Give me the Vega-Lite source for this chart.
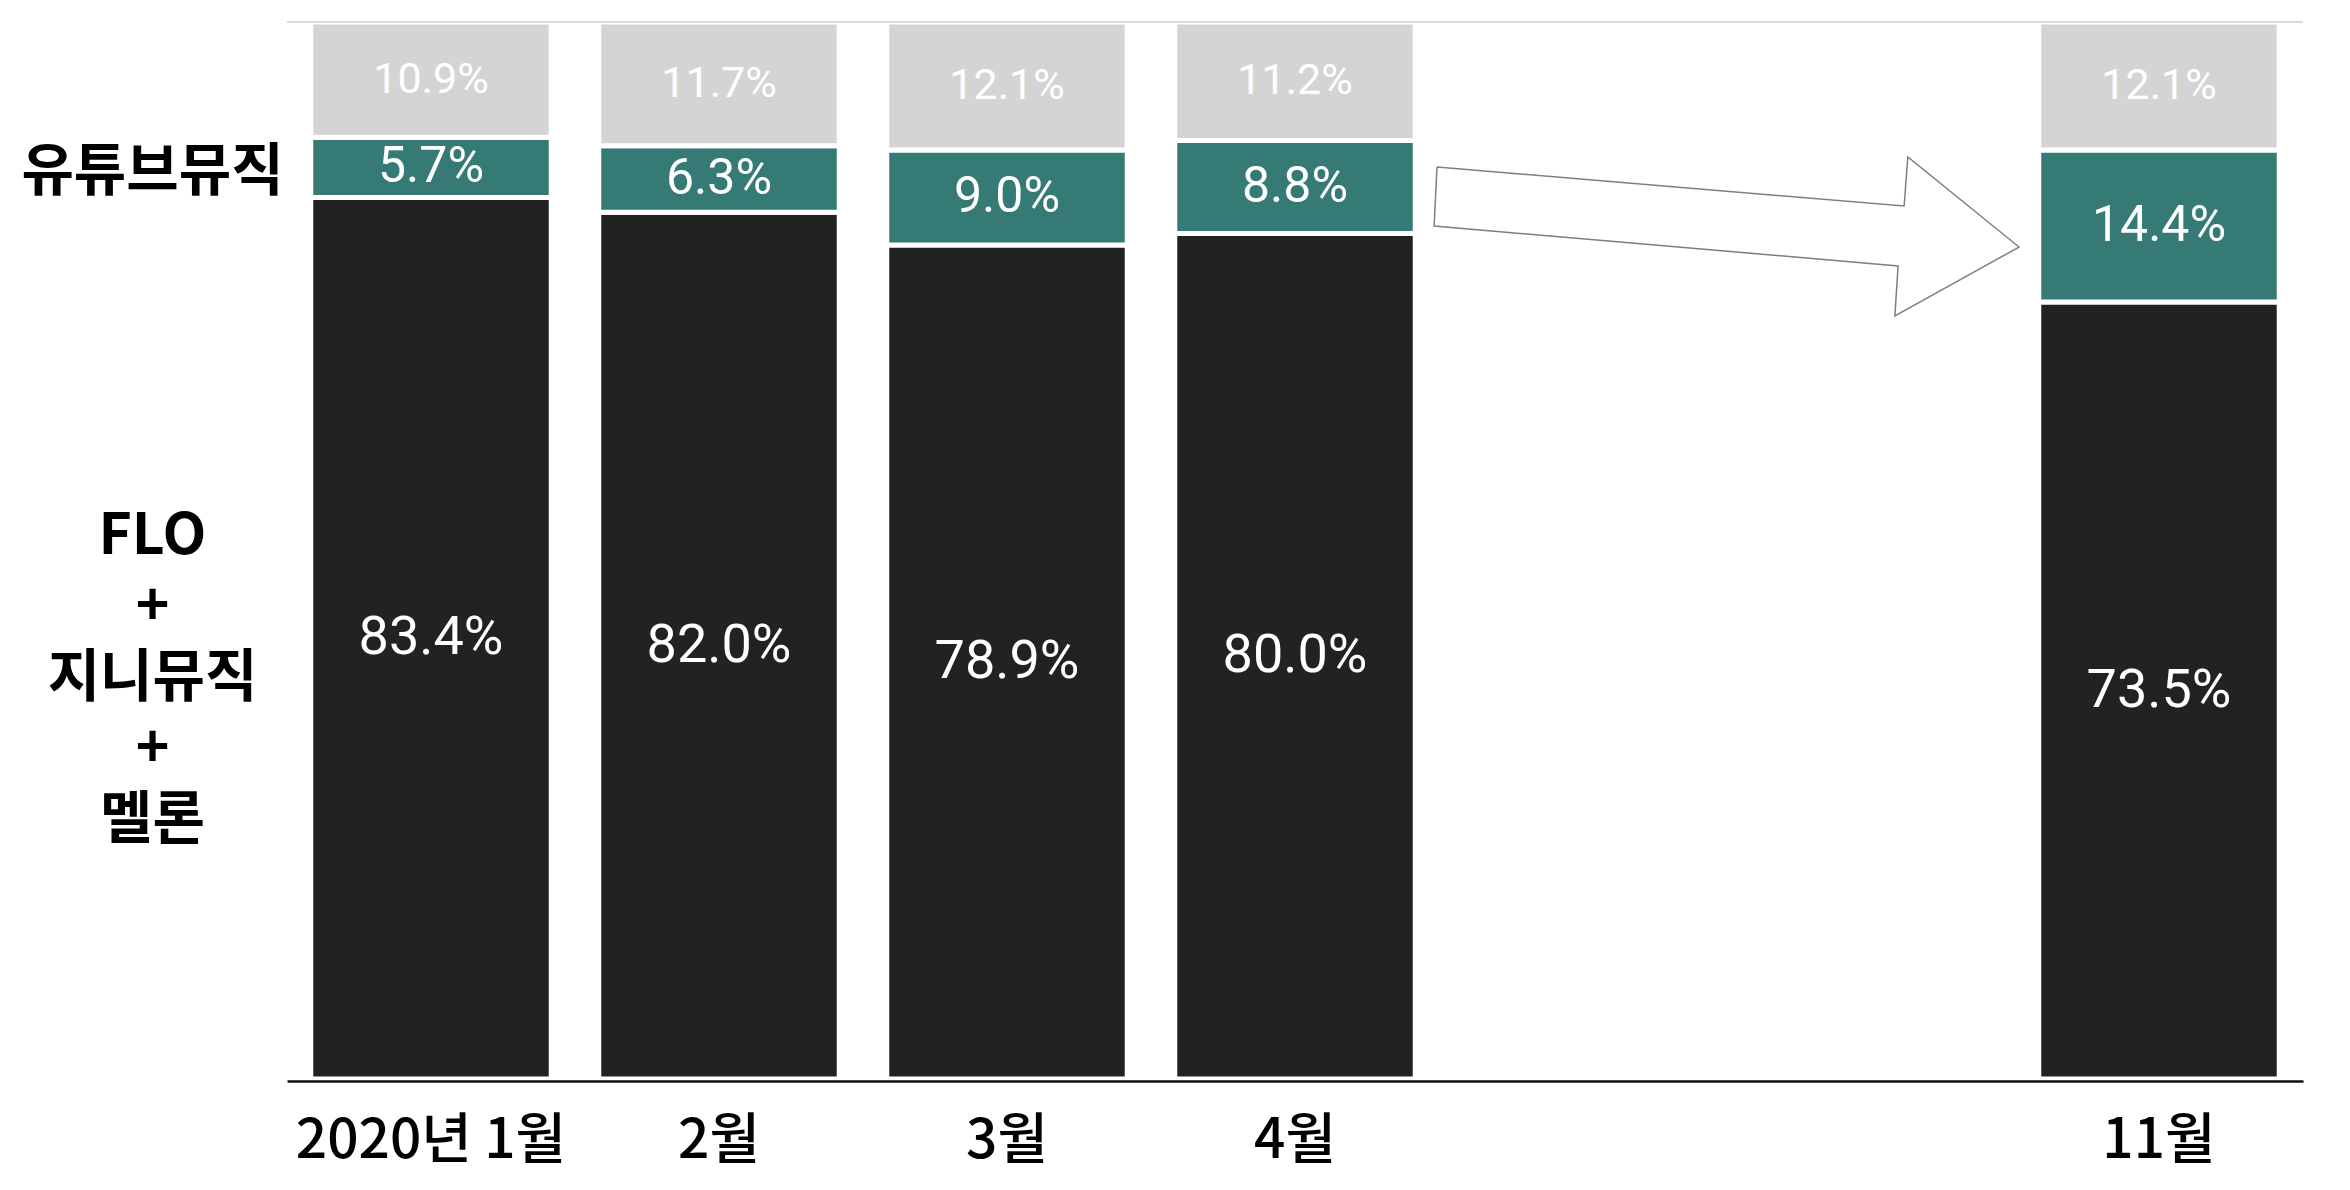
{
  "$schema": "https://vega.github.io/schema/vega-lite/v6.json",
  "width": 2016,
  "height": 1057,
  "autosize": {"type": "none"},
  "padding": {"left": 287, "top": 22, "right": 47, "bottom": 111},
  "background": "white",
  "config": {"view": {"stroke": null}},
  "datasets": {
    "shares": [
      {"month": "2020년 1월", "service": "FLO+지니뮤직+멜론", "share": 0.834},
      {"month": "2020년 1월", "service": "유튜브뮤직", "share": 0.057},
      {"month": "2020년 1월", "service": "기타", "share": 0.109},
      {"month": "2월", "service": "FLO+지니뮤직+멜론", "share": 0.820},
      {"month": "2월", "service": "유튜브뮤직", "share": 0.063},
      {"month": "2월", "service": "기타", "share": 0.117},
      {"month": "3월", "service": "FLO+지니뮤직+멜론", "share": 0.789},
      {"month": "3월", "service": "유튜브뮤직", "share": 0.090},
      {"month": "3월", "service": "기타", "share": 0.121},
      {"month": "4월", "service": "FLO+지니뮤직+멜론", "share": 0.800},
      {"month": "4월", "service": "유튜브뮤직", "share": 0.088},
      {"month": "4월", "service": "기타", "share": 0.112},
      {"month": "11월", "service": "FLO+지니뮤직+멜론", "share": 0.735},
      {"month": "11월", "service": "유튜브뮤직", "share": 0.144},
      {"month": "11월", "service": "기타", "share": 0.121}
    ],
    "arrow": [
      {"k": 1, "ax": 3.993, "ay": 0.8628},
      {"k": 2, "ax": 5.615, "ay": 0.8259},
      {"k": 3, "ax": 5.628, "ay": 0.8723},
      {"k": 4, "ax": 6.014, "ay": 0.7871},
      {"k": 5, "ax": 5.583, "ay": 0.7219},
      {"k": 6, "ax": 5.594, "ay": 0.7692},
      {"k": 7, "ax": 3.983, "ay": 0.8070},
      {"k": 8, "ax": 3.993, "ay": 0.8628}
    ]
  },
  "data": {"name": "shares"},
  "transform": [
    {"stack": "share", "groupby": ["month"], "as": ["y0", "y1"]},
    {"calculate": "(datum.y0 + datum.y1) / 2", "as": "mid"}
  ],
  "resolve": {"scale": {"x": "independent"}},
  "layer": [
    {
      "mark": {"type": "bar", "stroke": "white", "strokeWidth": 5},
      "encoding": {
        "x": {
          "field": "month",
          "type": "nominal",
          "scale": {
            "domain": ["2020년 1월", "2월", "3월", "4월", " ", "  ", "11월"],
            "paddingInner": 0.165,
            "paddingOuter": 0.0825
          },
          "axis": {
            "title": null,
            "labelAngle": 0,
            "ticks": false,
            "tickSize": 0,
            "grid": false,
            "offset": 2,
            "zindex": 2,
            "labelPadding": 33,
            "labelLimit": 1000,
            "labelFont": "Noto Sans CJK KR",
            "labelFontSize": 55,
            "labelFontWeight": 500,
            "labelColor": "#000000",
            "domainColor": "#111111",
            "domainWidth": 2.5
          }
        },
        "y": {
          "field": "y0",
          "type": "quantitative",
          "scale": {"domain": [0, 1], "nice": false},
          "axis": {
            "orient": "left",
            "title": null,
            "values": [0.5137, 0.858],
            "labelExpr": "datum.value > 0.7 ? '유튜브뮤직' : ['FLO', '+', '지니뮤직', '+', '멜론']",
            "domain": false,
            "ticks": false,
            "tickSize": 0,
            "grid": false,
            "labelPadding": 135,
            "labelAlign": "center",
            "labelBaseline": "middle",
            "labelFont": "Noto Sans CJK KR",
            "labelFontWeight": "bold",
            "labelFontSize": 57,
            "labelColor": "#000000",
            "labelLineHeight": 71,
            "labelLimit": 1000,
            "labelOverlap": false
          }
        },
        "y2": {"field": "y1"},
        "color": {
          "field": "service",
          "type": "nominal",
          "scale": {
            "domain": ["FLO+지니뮤직+멜론", "유튜브뮤직", "기타"],
            "range": ["#222222", "#357a74", "#d4d4d4"]
          },
          "legend": null
        }
      }
    },
    {
      "mark": {"type": "text", "font": "Roboto", "color": "white", "align": "center", "baseline": "middle"},
      "encoding": {
        "x": {
          "field": "month",
          "type": "nominal",
          "scale": {
            "domain": ["2020년 1월", "2월", "3월", "4월", " ", "  ", "11월"],
            "paddingInner": 0.165,
            "paddingOuter": 0.0825
          },
          "axis": null
        },
        "y": {"field": "mid", "type": "quantitative"},
        "text": {"field": "share", "type": "quantitative", "format": ".1%"},
        "size": {
          "condition": [
            {"test": "datum.service === '기타'", "value": 43},
            {"test": "datum.service === '유튜브뮤직'", "value": 50}
          ],
          "value": 54
        }
      }
    },
    {
      "data": {"values": [{}]},
      "mark": {"type": "rule", "color": "#cccccc", "strokeWidth": 1.5},
      "encoding": {"y": {"datum": 1, "type": "quantitative"}}
    },
    {
      "data": {"name": "arrow"},
      "mark": {"type": "line", "color": "#7f7f7f", "strokeWidth": 1.5, "strokeJoin": "miter"},
      "encoding": {
        "x": {"field": "ax", "type": "quantitative", "scale": {"domain": [0, 7], "nice": false, "zero": false}, "axis": null},
        "y": {"field": "ay", "type": "quantitative"},
        "order": {"field": "k", "type": "quantitative"}
      }
    }
  ]
}
